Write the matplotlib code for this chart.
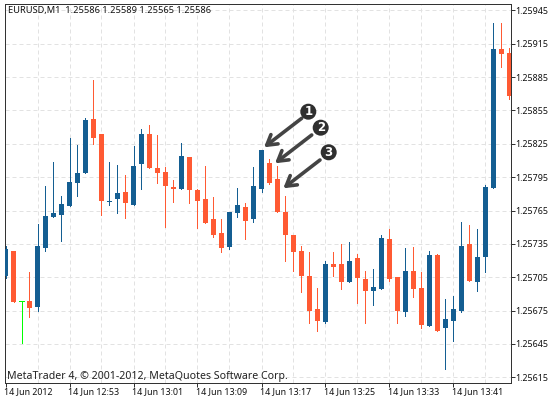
import matplotlib
matplotlib.use('Agg')
import matplotlib.pyplot as plt
from matplotlib.patches import Ellipse
from matplotlib.transforms import ScaledTranslation

W, H = 554, 403

# one minute bars, EURUSD
opens = [1.25706,1.25729,1.25684,1.25684,1.25678,1.25731,1.25759,1.25761,1.25769,1.25790,1.25799,1.25847,1.25834,1.25773,1.25775,1.25782,
	1.25770,1.25807,1.25834,1.25803,1.25800,1.25786,1.25784,1.25813,1.25783,1.25775,1.25757,1.25745,1.25732,1.25763,1.25768,1.25757,
	1.25784,1.25808,1.25793,1.25764,1.25743,1.25729,1.25706,1.25676,1.25665,1.25717,1.25717,1.25701,1.25722,1.25703,1.25693,1.25694,
	1.25739,1.25705,1.25674,1.25711,1.25695,1.25661,1.25725,1.25659,1.25666,1.25675,1.25735,1.25701,1.25723,1.25785,1.25910,1.25907]
highs = [1.25733,1.25729,1.25684,1.25710,1.25753,1.25787,1.25809,1.25778,1.25830,1.25824,1.25848,1.25882,1.25834,1.25809,1.25806,1.25797,
	1.25823,1.25838,1.25842,1.25833,1.25804,1.25792,1.25826,1.25813,1.25784,1.25805,1.25777,1.25757,1.25764,1.25785,1.25772,1.25804,
	1.25819,1.25811,1.25805,1.25778,1.25743,1.25733,1.25728,1.25695,1.25720,1.25728,1.25735,1.25737,1.25726,1.25711,1.25712,1.25743,
	1.25748,1.25705,1.25731,1.25732,1.25710,1.25729,1.25726,1.25685,1.25688,1.25755,1.25752,1.25748,1.25788,1.25934,1.25934,1.25911]
lows = [1.25704,1.25683,1.25646,1.25669,1.25675,1.25729,1.25759,1.25738,1.25769,1.25778,1.25799,1.25825,1.25761,1.25770,1.25763,1.25758,
	1.25770,1.25784,1.25803,1.25790,1.25750,1.25773,1.25784,1.25772,1.25749,1.25754,1.25741,1.25728,1.25730,1.25759,1.25739,1.25755,
	1.25782,1.25789,1.25764,1.25720,1.25711,1.25692,1.25664,1.25657,1.25664,1.25706,1.25694,1.25701,1.25682,1.25664,1.25680,1.25694,
	1.25702,1.25664,1.25670,1.25687,1.25659,1.25661,1.25657,1.25622,1.25648,1.25674,1.25702,1.25693,1.25710,1.25785,1.25894,1.25865]
closes = [1.25730,1.25683,1.25684,1.25677,1.25733,1.25760,1.25763,1.25771,1.25791,1.25799,1.25846,1.25830,1.25774,1.25774,1.25781,1.25772,
	1.25805,1.25834,1.25803,1.25799,1.25787,1.25784,1.25814,1.25783,1.25774,1.25754,1.25743,1.25731,1.25764,1.25770,1.25756,1.25787,
	1.25819,1.25790,1.25764,1.25743,1.25728,1.25706,1.25675,1.25666,1.25717,1.25714,1.25701,1.25720,1.25704,1.25693,1.25696,1.25740,
	1.25703,1.25675,1.25711,1.25694,1.25662,1.25725,1.25657,1.25667,1.25676,1.25733,1.25702,1.25723,1.25786,1.25910,1.25906,1.25868]

price_ticks = [1.25615,1.25645,1.25675,1.25705,1.25735,1.25765,1.25795,1.25825,1.25855,1.25885,1.25915,1.25945]
time_labels = ['14 Jun 2012','14 Jun 12:53','14 Jun 13:01','14 Jun 13:09','14 Jun 13:17','14 Jun 13:25','14 Jun 13:33','14 Jun 13:41']
header = 'EURUSD,M1  1.25586 1.25589 1.25565 1.25586'
footer = 'MetaTrader 4, © 2001-2012, MetaQuotes Software Corp.'

BLUE = '#145E92'
ORANGE = '#FF5A33'
GREEN = '#00FF00'
DARK = '#333333'
TEXT = '#111111'
GRID = '#E2E2E2'
FONT = 'Noto Sans'
PX = 0.72 #one pixel in points

def fx(px): #pixel position in the image to figure fraction
	return px/W
def fy(py):
	return 1-py/H

fig = plt.figure(figsize=(W/100, H/100), dpi=100)
ax = fig.add_axes([fx(4.5), fy(382.5), (510.5-4.5)/W, (382.5-3.5)/H])
ax.set_xlim(-0.125, 63.125)
ax.set_ylim(1.256103, 1.259512)

# grid
for i in range(4, 64, 4):
	ax.axvline(i, color=GRID, lw=PX, ls=(0, (4, 3)), zorder=1)
for p in price_ticks:
	ax.axhline(p, color=GRID, lw=PX, ls=(0, (4, 3)), zorder=1)

# candles
xs = list(range(len(opens)))
cols = []
for o, c in zip(opens, closes):
	if c > o:
		cols.append(BLUE)
	elif c < o:
		cols.append(ORANGE)
	else:
		cols.append(GREEN)
ax.vlines(xs, lows, highs, colors=cols, lw=PX, antialiased=False, zorder=2)
ax.bar(xs, [abs(c-o) for o, c in zip(opens, closes)], bottom=[min(o, c) for o, c in zip(opens, closes)],
	width=0.625, color=cols, linewidth=0, antialiased=False, zorder=3)
for x, o, c in zip(xs, opens, closes):
	if o == c: #doji, no body to draw
		ax.hlines(o, x-0.3, x+0.3, colors=GREEN, lw=PX, antialiased=False, zorder=3)

# axes
for s in ax.spines.values():
	s.set_color(DARK)
	s.set_linewidth(PX)
ax.yaxis.tick_right()
ax.set_yticks(price_ticks)
ax.set_yticklabels(['%.5f' % p for p in price_ticks], fontsize=6.4, family=FONT, color=TEXT)
ax.set_xticks(xs[::8])
ax.set_xticklabels(time_labels, fontsize=6.4, family=FONT, color=TEXT, ha='left')
ax.tick_params(axis='y', length=3, width=PX, color=DARK, pad=0.3)
ax.tick_params(axis='x', length=3, width=PX, color=DARK, pad=0.3)
shift = ScaledTranslation(-1.5/100, 0, fig.dpi_scale_trans)
for lab in ax.get_xticklabels():
	lab.set_transform(lab.get_transform()+shift)

fig.text(fx(8), fy(11), header, fontsize=6.7, family=FONT, color=TEXT, va='center')
fig.text(fx(7), fy(376), footer, fontsize=7.6, family=FONT, color='#222222', va='center')

# numbered arrows
badges = [('1', 308.3, 111.7, 301.7, 118.3, 264, 147.3),
	('2', 320.7, 127.7, 311.7, 135, 275, 163.3),
	('3', 328.7, 152.3, 320, 160, 283.3, 188.3)]
for num, cx, cy, sx, sy, tx, ty in badges:
	ax.annotate('', xy=(fx(tx), fy(ty)), xycoords='figure fraction', xytext=(fx(sx), fy(sy)), textcoords='figure fraction',
		arrowprops=dict(arrowstyle='->,head_length=0.7,head_width=0.42', lw=2.6, color='#444444', shrinkA=0, shrinkB=0), zorder=5)
	fig.add_artist(Ellipse((fx(cx), fy(cy)), 16/W, 16/H, transform=fig.transFigure, facecolor='#2F2F2F', edgecolor='none', zorder=6))
	fig.text(fx(cx), fy(cy), num, fontsize=8.5, fontweight='bold', family='DejaVu Sans', color='white', ha='center', va='center', zorder=7)

fig.savefig('out.png', dpi=100, facecolor='white')
